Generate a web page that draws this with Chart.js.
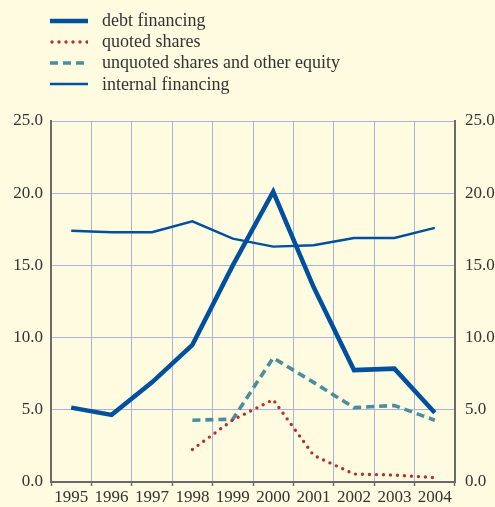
<!DOCTYPE html>
<html>
<head>
<meta charset="utf-8">
<script src="https://cdn.jsdelivr.net/npm/chart.js@4/dist/chart.umd.min.js"></script>
<style>
  html, body { margin: 0; padding: 0; background: #fffbe0; }
  #wrap { position: relative; width: 495px; height: 507px; background: #fffbe0; }
  #c { position: absolute; left: 0; top: 0; }
  #legend { position: absolute; left: 50px; top: 10px; font-family: "Liberation Serif", "Times New Roman", serif; font-size: 18px; color: #333; }
  .row { display: flex; align-items: center; height: 21.2px; }
  .row svg { width: 38px; height: 10px; margin-right: 14px; flex: none; }
</style>
</head>
<body>
<div id="wrap">
  <canvas id="c" width="495" height="507"></canvas>
  <div id="legend"></div>
</div>
<script>
const categories = ["1995","1996","1997","1998","1999","2000","2001","2002","2003","2004"];
const debtFinancing = [5.15, 4.65, 6.9, 9.5, 15.0, 20.1, 13.5, 7.75, 7.85, 4.8];
const quotedShares = [null, null, null, 2.25, 4.3, 5.7, 1.85, 0.55, 0.48, 0.3];
const unquotedShares = [null, null, null, 4.28, 4.35, 8.6, 6.9, 5.15, 5.3, 4.28];
const internalFinancing = [17.4, 17.3, 17.3, 18.05, 16.85, 16.3, 16.4, 16.9, 16.9, 17.6];
const yTicks = [0, 5, 10, 15, 20, 25];

const seriesNames = ["debt financing", "quoted shares", "unquoted shares and other equity", "internal financing"];
const colors = ["#00509e", "#b53030", "#4a8da0", "#00509e"];

const font = { family: "'Liberation Serif', 'Times New Roman', serif", size: 17 };
const gridColor = "#a9b3df";
const axisColor = "#6a6a6a";

const datasets = [
  { label: seriesNames[0], data: debtFinancing, borderColor: colors[0], borderWidth: 4.5, borderJoinStyle: 'miter' },
  { label: seriesNames[1], data: quotedShares, borderColor: colors[1], borderWidth: 3.4, borderDash: [0, 7], borderCapStyle: 'round' },
  { label: seriesNames[2], data: unquotedShares, borderColor: colors[2], borderWidth: 3.6, borderDash: [8, 5] },
  { label: seriesNames[3], data: internalFinancing, borderColor: colors[3], borderWidth: 2.4 }
].map(d => Object.assign({ pointRadius: 0, fill: false, tension: 0, spanGaps: false }, d));

new Chart(document.getElementById('c'), {
  type: 'line',
  data: { labels: categories, datasets },
  options: {
    responsive: false,
    animation: false,
    layout: { padding: { top: 121, left: 0, right: 0, bottom: 0 } },
    plugins: { legend: { display: false }, tooltip: { enabled: false } },
    scales: {
      x: {
        type: 'category',
        offset: true,
        grid: { offset: true, color: gridColor, lineWidth: 1, drawTicks: true, tickLength: 4, tickColor: axisColor, tickWidth: 1.5 },
        border: { display: true, color: axisColor, width: 2 },
        ticks: { font, color: '#333', padding: 1, maxRotation: 0, autoSkip: false },
        afterFit: s => { s.height = 25; }
      },
      y: {
        position: 'left',
        min: 0, max: 25,
        afterBuildTicks: s => { s.ticks = yTicks.map(v => ({ value: v })); },
        grid: { color: gridColor, lineWidth: 1, drawTicks: false },
        border: { display: true, color: axisColor, width: 2 },
        ticks: { font, color: '#333', padding: 8, callback: v => Number(v).toFixed(1) },
        afterFit: s => { s.width = 51; }
      },
      y2: {
        position: 'right',
        min: 0, max: 25,
        afterBuildTicks: s => { s.ticks = yTicks.map(v => ({ value: v })); },
        grid: { display: false, drawTicks: false },
        border: { display: true, color: axisColor, width: 2 },
        ticks: { font, color: '#333', padding: 10, callback: v => Number(v).toFixed(1) },
        afterFit: s => { s.width = 40; }
      }
    }
  },
  plugins: [{
    id: 'bg',
    beforeDraw(chart) {
      const ctx = chart.ctx;
      ctx.save();
      ctx.fillStyle = '#fffbe0';
      ctx.fillRect(0, 0, chart.width, chart.height);
      ctx.restore();
    }
  }]
});

// HTML legend built from the dataset definitions
const legend = document.getElementById('legend');
datasets.forEach(d => {
  const row = document.createElement('div');
  row.className = 'row';
  const dash = d.borderDash ? d.borderDash.join(' ') : '';
  const cap = d.borderCapStyle === 'round' ? 'round' : 'butt';
  row.innerHTML = '<svg viewBox="0 0 38 10"><line x1="' + (cap === 'round' ? 2 : 0) + '" y1="5" x2="38" y2="5" stroke="' + d.borderColor +
    '" stroke-width="' + d.borderWidth + '" stroke-dasharray="' + dash + '" stroke-linecap="' + cap + '"/></svg><span>' + d.label + '</span>';
  legend.appendChild(row);
});
</script>
</body>
</html>
